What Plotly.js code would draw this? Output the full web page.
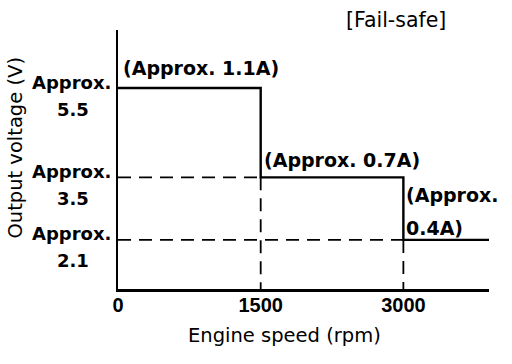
<!DOCTYPE html>
<html>
<head>
<meta charset="utf-8">
<script src="https://cdn.plot.ly/plotly-3.0.1.min.js"></script>
<style>html,body{margin:0;padding:0;background:#fff;}#chart{width:512px;height:364px;}</style>
</head>
<body>
<div id="chart"></div>
<script>
// ---- data ----
const rpmBreaks = [0, 1500, 3000, 3900];          // engine speed breakpoints (rpm); last = axis end
const voltage = [5.5, 3.5, 2.1];                  // output voltage on each segment (V)
const yTickPrefix = 'Approx.';
const yTickNumbers = ['5.5', '3.5', '2.1'];
const currentLabelLines = [['(Approx. 1.1A)'], ['(Approx. 0.7A)'], ['(Approx.', '0.4A)']];
const xTickVals = [0, 1500, 3000];
const xTickText = ['0', '1500', '3000'];
const xTitle = 'Engine speed (rpm)';
const yTitle = 'Output voltage (V)';
const noteText = '[Fail-safe]';
const yRange = [1.0, 6.8];

const BOLD = {family: 'DejaVu Sans', size: 19, color: '#000', weight: 'bold'};
const traces = [];

// solid step line
traces.push({
  x: rpmBreaks,
  y: voltage.concat([voltage[voltage.length - 1]]),
  mode: 'lines', line: {shape: 'hv', color: '#000', width: 2.4},
  hoverinfo: 'skip'
});
// dashed guide lines
for (let i = 1; i < voltage.length; i++) {
  traces.push({
    x: [rpmBreaks[0], rpmBreaks[i]], y: [voltage[i], voltage[i]],
    mode: 'lines', line: {color: '#000', width: 1.8, dash: '13px,8px'}, hoverinfo: 'skip'
  });
  traces.push({
    x: [rpmBreaks[i], rpmBreaks[i]], y: [voltage[i], yRange[0]],
    mode: 'lines', line: {color: '#000', width: 1.8, dash: '13px,8px'}, hoverinfo: 'skip'
  });
}

const annotations = [];
// y tick labels (two lines each)
voltage.forEach((v, i) => {
  annotations.push({xref: 'paper', yref: 'y', x: 0, y: v, text: yTickPrefix, showarrow: false,
    xanchor: 'right', yanchor: 'middle', xshift: -5, yshift: 6,
    font: {family: 'DejaVu Sans', size: 18, color: '#000', weight: 'bold'}});
  annotations.push({xref: 'paper', yref: 'y', x: 0, y: v, text: yTickNumbers[i], showarrow: false,
    xanchor: 'center', yanchor: 'middle', xshift: -45, yshift: -21,
    font: {family: 'DejaVu Sans', size: 18, color: '#000', weight: 'bold'}});
});
// current labels
const labelShifts = [[20], [17], [45, 12]];
const labelXShift = [3, 1, 1];
currentLabelLines.forEach((lines, i) => {
  lines.forEach((t, j) => {
    annotations.push({xref: 'x', yref: 'y', x: rpmBreaks[i], y: voltage[i], text: t, showarrow: false,
      xanchor: 'left', yanchor: 'middle', xshift: labelXShift[i], yshift: labelShifts[i][j], font: BOLD});
  });
});
// note, axis titles
annotations.push({xref: 'paper', yref: 'paper', x: 0.748, y: 1.038, text: noteText, showarrow: false,
  xanchor: 'center', yanchor: 'middle', font: {family: 'DejaVu Sans', size: 20.5, color: '#000'}});
annotations.push({xref: 'paper', yref: 'paper', x: 0.45, y: -0.18, text: xTitle, showarrow: false,
  xanchor: 'center', yanchor: 'middle', font: {family: 'DejaVu Sans', size: 19.5, color: '#000'}});
annotations.push({xref: 'paper', yref: 'paper', x: -0.275, y: 0.546, text: yTitle, showarrow: false,
  textangle: -90, xanchor: 'center', yanchor: 'middle', font: {family: 'DejaVu Sans', size: 19.5, color: '#000'}});

const layout = {
  width: 512, height: 364,
  margin: {l: 118, r: 23, t: 30, b: 75, pad: 0},
  paper_bgcolor: '#fff', plot_bgcolor: '#fff',
  showlegend: false,
  xaxis: {range: [rpmBreaks[0], rpmBreaks[rpmBreaks.length - 1]], showgrid: false, zeroline: false,
    showline: true, linecolor: '#000', linewidth: 2.5, ticks: '', ticklabelstandoff: -4,
    tickvals: xTickVals, ticktext: xTickText,
    tickfont: {family: 'Liberation Sans', size: 20, color: '#000', weight: 'bold'}, fixedrange: true},
  yaxis: {range: yRange, showgrid: false, zeroline: false, showline: true, linecolor: '#000', linewidth: 2.2,
    showticklabels: false, ticks: '', fixedrange: true},
  annotations: annotations
};

Plotly.newPlot('chart', traces, layout, {displayModeBar: false, staticPlot: true});
</script>
</body>
</html>
